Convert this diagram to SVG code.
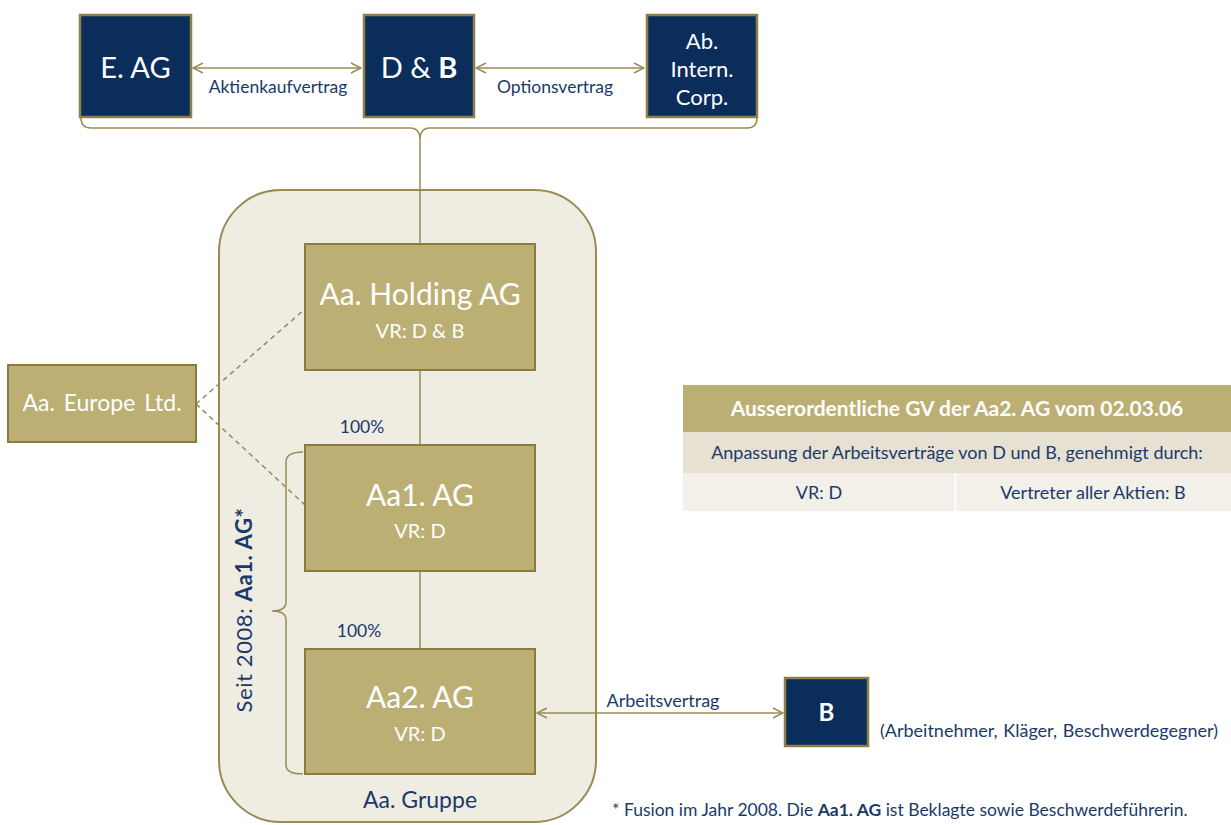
<svg xmlns="http://www.w3.org/2000/svg" width="1231" height="825" viewBox="0 0 1231 825">
<style>
text{font-family:Lato,"Open Sans","Liberation Sans",sans-serif}
.navy{fill:#0a2d5c;stroke:#8f7f45;stroke-width:2.5}
.gold{fill:#bcaf74;stroke:#8a7b42;stroke-width:2}
.w{fill:#ffffff;text-anchor:middle}
.b{fill:#1a3a6b}
.ln{stroke:#9a8b55;stroke-width:1.5;fill:none}
.dash{stroke:#9a8b55;stroke-width:1.5;fill:none;stroke-dasharray:5 4}
</style>
<defs>
<marker id="ah" viewBox="0 0 12 12" refX="11" refY="6" markerWidth="12" markerHeight="12" markerUnits="userSpaceOnUse" orient="auto-start-reverse">
<path d="M1,1 L11,6 L1,11" fill="none" stroke="#9a8b55" stroke-width="1.5"/>
</marker>
</defs>

<rect id="gruppe" x="219" y="190" width="377" height="632" rx="62" ry="62" fill="#efece2" stroke="#9a8b55" stroke-width="2"/>
<text x="420" y="808" class="b" font-size="23" text-anchor="middle">Aa. Gruppe</text>

<g id="connectors">
<line x1="193" y1="68" x2="361" y2="68" class="ln" marker-start="url(#ah)" marker-end="url(#ah)"/>
<line x1="476" y1="68" x2="644" y2="68" class="ln" marker-start="url(#ah)" marker-end="url(#ah)"/>
<path d="M81,118 Q81,128 91,128 L410,128 Q420,128 420,140 Q420,128 430,128 L747,128 Q757,128 757,118" class="ln"/>
<line x1="420" y1="140" x2="420" y2="244" class="ln"/>
<line x1="420" y1="370" x2="420" y2="445" class="ln"/>
<line x1="420" y1="571" x2="420" y2="649" class="ln"/>
<line x1="196" y1="404" x2="305" y2="309" class="dash"/>
<line x1="196" y1="404" x2="305" y2="505" class="dash"/>
<line x1="537" y1="713" x2="783" y2="713" class="ln" marker-start="url(#ah)" marker-end="url(#ah)"/>
<path d="M303,452 Q286,452 286,462 L286,602 Q286,611 272,611 Q286,611 286,620 L286,765 Q286,774 303,774" class="ln"/>
</g>
<text x="663" y="707" class="b" font-size="18" text-anchor="middle">Arbeitsvertrag</text>
<text x="278" y="93" class="b" font-size="17.5" text-anchor="middle">Aktienkaufvertrag</text>
<text x="555" y="93" class="b" font-size="17.5" text-anchor="middle">Optionsvertrag</text>
<text x="362" y="433" class="b" font-size="17.5" text-anchor="middle">100%</text>
<text x="359" y="637" class="b" font-size="17.5" text-anchor="middle">100%</text>
<text transform="translate(252,610) rotate(-90)" class="b" font-size="22" text-anchor="middle" letter-spacing="0.6">Seit 2008: <tspan font-weight="bold">Aa1. AG*</tspan></text>

<g id="eag">
<rect x="80" y="15" width="111" height="102" class="navy"/>
<text x="135.5" y="78" class="w" font-size="29">E. AG</text>
</g>
<g id="db">
<rect x="364" y="15" width="110" height="102" class="navy"/>
<text x="419" y="78" class="w" font-size="29">D &amp; <tspan font-weight="bold">B</tspan></text>
</g>
<g id="ab">
<rect x="647" y="15" width="110" height="102" class="navy"/>
<text x="702" y="49" class="w" font-size="22">Ab.</text>
<text x="702" y="77" class="w" font-size="22">Intern.</text>
<text x="702" y="105" class="w" font-size="22">Corp.</text>
</g>

<g id="holding">
<rect x="305" y="244" width="230" height="126" class="gold"/>
<text x="420" y="305" class="w" font-size="30">Aa. Holding AG</text>
<text x="420" y="338" class="w" font-size="20">VR: D &amp; B</text>
</g>
<g id="aa1">
<rect x="305" y="445" width="230" height="126" class="gold"/>
<text x="420" y="506" class="w" font-size="30">Aa1. AG</text>
<text x="420" y="538" class="w" font-size="20">VR: D</text>
</g>
<g id="aa2">
<rect x="305" y="649" width="230" height="125" class="gold"/>
<text x="420" y="708" class="w" font-size="30">Aa2. AG</text>
<text x="420" y="741" class="w" font-size="20">VR: D</text>
</g>
<g id="europe">
<rect x="8" y="365" width="188" height="77" class="gold"/>
<text x="102" y="411" class="w" font-size="23" word-spacing="3">Aa. Europe Ltd.</text>
</g>
<g id="b">
<rect x="785" y="678" width="83" height="68" class="navy"/>
<text x="826.5" y="721" class="w" font-size="24" font-weight="bold">B</text>
</g>
<text x="880" y="737" class="b" font-size="18" word-spacing="1">(Arbeitnehmer, Kläger, Beschwerdegegner)</text>

<g id="table">
<rect x="683" y="385" width="548" height="47" fill="#bcaf74"/>
<rect x="683" y="432" width="548" height="41" fill="#e6e1d3"/>
<rect x="683" y="473" width="548" height="38" fill="#f2f0e9"/>
<line x1="955.5" y1="473" x2="955.5" y2="511" stroke="#ffffff" stroke-width="2"/>
<text x="957" y="416" class="w" font-size="21" font-weight="bold">Ausserordentliche GV der Aa2. AG vom 02.03.06</text>
<text x="957" y="459" class="b" font-size="18" text-anchor="middle">Anpassung der Arbeitsverträge von D und B, genehmigt durch:</text>
<text x="819" y="499" class="b" font-size="18" text-anchor="middle">VR: D</text>
<text x="1093" y="499" class="b" font-size="18" text-anchor="middle">Vertreter aller Aktien: B</text>
</g>
<text x="612" y="816" class="b" font-size="17.5">* Fusion im Jahr 2008. Die <tspan font-weight="bold">Aa1. AG</tspan> ist Beklagte sowie Beschwerdeführerin.</text>
</svg>
